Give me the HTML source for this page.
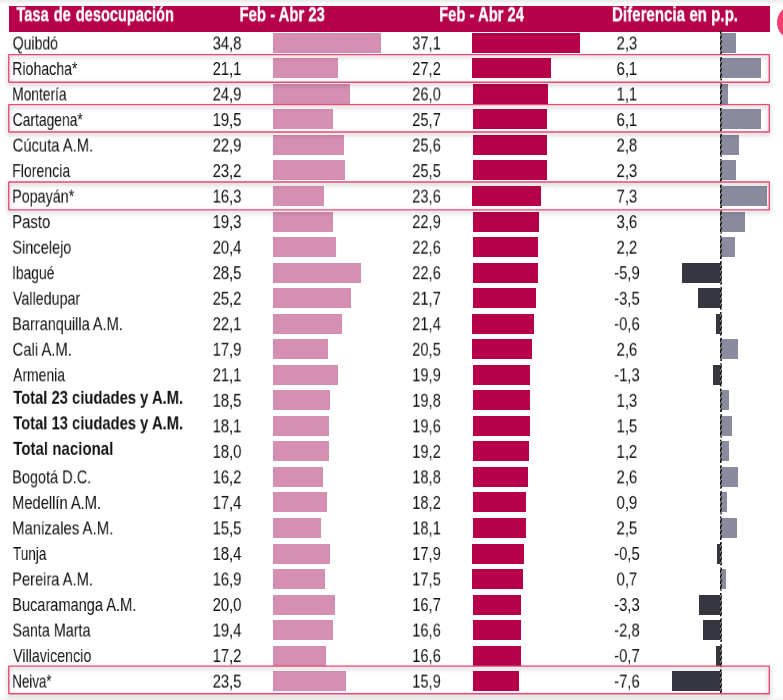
<!DOCTYPE html>
<html><head><meta charset="utf-8"><title>Tasa de desocupación</title>
<style>
html,body{margin:0;padding:0;background:#fff;}
body{width:783px;height:700px;position:relative;overflow:hidden;font-family:"Liberation Sans",sans-serif;color:#111;}
.top{position:absolute;left:0;top:0;width:783px;height:5px;background:linear-gradient(#eaeaea,#fff);}
.hdr{position:absolute;left:9px;top:6px;width:761px;height:25.8px;background:#b6004a;}
.ht{will-change:transform;position:absolute;left:0;top:0;height:22px;line-height:22px;font-weight:bold;font-size:21.0px;color:#fff;-webkit-text-stroke:0.35px #fff;white-space:nowrap;transform-origin:0 50%;}
.t{will-change:transform;position:absolute;left:0;top:0;height:20px;line-height:20px;font-size:18.6px;white-space:nowrap;}
.n{transform-origin:0 50%;}
.n.b{font-weight:bold;font-size:18.6px;}
.v{width:60px;text-align:center;transform-origin:50% 50%;}
.bar{position:absolute;height:19.85px;}
.a{background:#d58fb2;}
.c{background:#b6004a;}
.p{background:#8b8b9f;}
.m{background:#363640;}
.ax{position:absolute;left:720.1px;width:1.7px;background:repeating-linear-gradient(107deg,#0a0a0a 0,#0a0a0a 1.15px,#a0a0a0 1.15px,#a0a0a0 1.6px);}
.box{position:absolute;left:8.05px;box-sizing:border-box;border:1.4px solid #ec4875;border-radius:1.5px;filter:drop-shadow(-0.5px 2.6px 1.5px rgba(0,0,0,0.42));}
.circ{position:absolute;left:777px;top:5.1px;width:35px;height:35px;border-radius:50%;background:#ec3f6e;}
.bot{position:absolute;left:0;top:696px;width:783px;height:4px;background:linear-gradient(rgba(0,0,0,0),rgba(0,0,0,0.05));}
</style></head><body>
<div class="top"></div>
<div class="hdr"></div>
<div class="ht" style="word-spacing:1.5px;transform:translate(16.4px,3.2px) scaleX(0.6947)">Tasa de desocupación</div>
<div class="ht" style="transform:translate(239.55px,3.2px) scaleX(0.7067)">Feb - Abr 23</div>
<div class="ht" style="transform:translate(439.15px,3.2px) scaleX(0.7027)">Feb - Abr 24</div>
<div class="ht" style="transform:translate(612.0px,3.2px) scaleX(0.7197)">Diferencia en p.p.</div>
<div class="circ"></div>

<div class="t n" style="transform:translate(12.69px,33.45px) scaleX(0.7555)">Quibdó</div>
<div class="t v" style="transform:translate(197.00px,33.45px) scaleX(0.796731870967742)">34,8</div>
<div class="t v" style="transform:translate(396.50px,33.45px) scaleX(0.796731870967742)">37,1</div>
<div class="t v" style="transform:translate(596.90px,33.45px) scaleX(0.796731870967742)">2,3</div>
<div class="bar a" style="left:273px;top:33.00px;width:107.88px"></div>
<div class="bar c" style="left:472px;top:33.00px;width:107.90px"></div>
<div class="bar p" style="left:721.40px;top:33.00px;width:14.50px"></div>
<div class="t n" style="transform:translate(12.17px,58.97px) scaleX(0.7612)">Riohacha*</div>
<div class="t v" style="transform:translate(197.00px,58.97px) scaleX(0.796731870967742)">21,1</div>
<div class="t v" style="transform:translate(396.50px,58.97px) scaleX(0.796731870967742)">27,2</div>
<div class="t v" style="transform:translate(596.90px,58.97px) scaleX(0.796731870967742)">6,1</div>
<div class="bar a" style="left:273px;top:58.00px;width:65.41px"></div>
<div class="bar c" style="left:472px;top:58.00px;width:79.00px"></div>
<div class="bar p" style="left:721.40px;top:58.00px;width:39.70px"></div>
<div class="t n" style="transform:translate(12.17px,84.50px) scaleX(0.7417)">Montería</div>
<div class="t v" style="transform:translate(197.00px,84.50px) scaleX(0.796731870967742)">24,9</div>
<div class="t v" style="transform:translate(396.50px,84.50px) scaleX(0.796731870967742)">26,0</div>
<div class="t v" style="transform:translate(596.90px,84.50px) scaleX(0.796731870967742)">1,1</div>
<div class="bar a" style="left:273px;top:84.00px;width:77.19px"></div>
<div class="bar c" style="left:473px;top:84.00px;width:75.00px"></div>
<div class="bar p" style="left:721.40px;top:84.00px;width:6.60px"></div>
<div class="t n" style="transform:translate(12.67px,110.02px) scaleX(0.7455)">Cartagena*</div>
<div class="t v" style="transform:translate(197.00px,110.02px) scaleX(0.796731870967742)">19,5</div>
<div class="t v" style="transform:translate(396.50px,110.02px) scaleX(0.796731870967742)">25,7</div>
<div class="t v" style="transform:translate(596.90px,110.02px) scaleX(0.796731870967742)">6,1</div>
<div class="bar a" style="left:273px;top:109.00px;width:60.45px"></div>
<div class="bar c" style="left:473px;top:109.00px;width:74.00px"></div>
<div class="bar p" style="left:721.40px;top:109.00px;width:39.70px"></div>
<div class="t n" style="transform:translate(12.63px,135.55px) scaleX(0.7958)">Cúcuta A.M.</div>
<div class="t v" style="transform:translate(197.00px,135.55px) scaleX(0.796731870967742)">22,9</div>
<div class="t v" style="transform:translate(396.50px,135.55px) scaleX(0.796731870967742)">25,6</div>
<div class="t v" style="transform:translate(596.90px,135.55px) scaleX(0.796731870967742)">2,8</div>
<div class="bar a" style="left:273px;top:135.00px;width:70.99px"></div>
<div class="bar c" style="left:473px;top:135.00px;width:74.00px"></div>
<div class="bar p" style="left:721.40px;top:135.00px;width:17.50px"></div>
<div class="t n" style="transform:translate(12.17px,161.08px) scaleX(0.7587)">Florencia</div>
<div class="t v" style="transform:translate(197.00px,161.08px) scaleX(0.796731870967742)">23,2</div>
<div class="t v" style="transform:translate(396.50px,161.08px) scaleX(0.796731870967742)">25,5</div>
<div class="t v" style="transform:translate(596.90px,161.08px) scaleX(0.796731870967742)">2,3</div>
<div class="bar a" style="left:273px;top:160.00px;width:71.92px"></div>
<div class="bar c" style="left:473px;top:160.00px;width:74.00px"></div>
<div class="bar p" style="left:721.40px;top:160.00px;width:14.55px"></div>
<div class="t n" style="transform:translate(12.13px,186.60px) scaleX(0.7697)">Popayán*</div>
<div class="t v" style="transform:translate(197.00px,186.60px) scaleX(0.796731870967742)">16,3</div>
<div class="t v" style="transform:translate(396.50px,186.60px) scaleX(0.796731870967742)">23,6</div>
<div class="t v" style="transform:translate(596.90px,186.60px) scaleX(0.796731870967742)">7,3</div>
<div class="bar a" style="left:273px;top:186.00px;width:50.53px"></div>
<div class="bar c" style="left:472px;top:186.00px;width:69.00px"></div>
<div class="bar p" style="left:721.40px;top:186.00px;width:45.50px"></div>
<div class="t n" style="transform:translate(12.09px,212.12px) scaleX(0.8034)">Pasto</div>
<div class="t v" style="transform:translate(197.00px,212.12px) scaleX(0.796731870967742)">19,3</div>
<div class="t v" style="transform:translate(396.50px,212.12px) scaleX(0.796731870967742)">22,9</div>
<div class="t v" style="transform:translate(596.90px,212.12px) scaleX(0.796731870967742)">3,6</div>
<div class="bar a" style="left:273px;top:212.00px;width:59.83px"></div>
<div class="bar c" style="left:473px;top:212.00px;width:66.00px"></div>
<div class="bar p" style="left:721.40px;top:212.00px;width:23.50px"></div>
<div class="t n" style="transform:translate(12.31px,237.65px) scaleX(0.7829)">Sincelejo</div>
<div class="t v" style="transform:translate(197.00px,237.65px) scaleX(0.796731870967742)">20,4</div>
<div class="t v" style="transform:translate(396.50px,237.65px) scaleX(0.796731870967742)">22,6</div>
<div class="t v" style="transform:translate(596.90px,237.65px) scaleX(0.796731870967742)">2,2</div>
<div class="bar a" style="left:273px;top:237.00px;width:63.24px"></div>
<div class="bar c" style="left:473px;top:237.00px;width:65.00px"></div>
<div class="bar p" style="left:721.40px;top:237.00px;width:13.50px"></div>
<div class="t n" style="transform:translate(12.02px,263.17px) scaleX(0.7443)">Ibagué</div>
<div class="t v" style="transform:translate(197.00px,263.17px) scaleX(0.796731870967742)">28,5</div>
<div class="t v" style="transform:translate(396.50px,263.17px) scaleX(0.796731870967742)">22,6</div>
<div class="t v" style="transform:translate(596.90px,263.17px) scaleX(0.796731870967742)">-5,9</div>
<div class="bar a" style="left:273px;top:263.00px;width:88.35px"></div>
<div class="bar c" style="left:473px;top:263.00px;width:65.00px"></div>
<div class="bar m" style="left:682.10px;top:263.00px;width:38.20px"></div>
<div class="t n" style="transform:translate(12.95px,288.70px) scaleX(0.7683)">Valledupar</div>
<div class="t v" style="transform:translate(197.00px,288.70px) scaleX(0.796731870967742)">25,2</div>
<div class="t v" style="transform:translate(396.50px,288.70px) scaleX(0.796731870967742)">21,7</div>
<div class="t v" style="transform:translate(596.90px,288.70px) scaleX(0.796731870967742)">-3,5</div>
<div class="bar a" style="left:273px;top:288.00px;width:78.12px"></div>
<div class="bar c" style="left:473px;top:288.00px;width:63.00px"></div>
<div class="bar m" style="left:698.20px;top:288.00px;width:22.10px"></div>
<div class="t n" style="transform:translate(12.13px,314.22px) scaleX(0.7816)">Barranquilla A.M.</div>
<div class="t v" style="transform:translate(197.00px,314.22px) scaleX(0.796731870967742)">22,1</div>
<div class="t v" style="transform:translate(396.50px,314.22px) scaleX(0.796731870967742)">21,4</div>
<div class="t v" style="transform:translate(596.90px,314.22px) scaleX(0.796731870967742)">-0,6</div>
<div class="bar a" style="left:273px;top:314.00px;width:68.51px"></div>
<div class="bar c" style="left:472px;top:314.00px;width:61.90px"></div>
<div class="bar m" style="left:716.15px;top:314.00px;width:4.15px"></div>
<div class="t n" style="transform:translate(12.58px,339.75px) scaleX(0.7969)">Cali A.M.</div>
<div class="t v" style="transform:translate(197.00px,339.75px) scaleX(0.796731870967742)">17,9</div>
<div class="t v" style="transform:translate(396.50px,339.75px) scaleX(0.796731870967742)">20,5</div>
<div class="t v" style="transform:translate(596.90px,339.75px) scaleX(0.796731870967742)">2,6</div>
<div class="bar a" style="left:273px;top:339.00px;width:55.49px"></div>
<div class="bar c" style="left:472px;top:339.00px;width:59.90px"></div>
<div class="bar p" style="left:721.40px;top:339.00px;width:16.60px"></div>
<div class="t n" style="transform:translate(13.15px,365.27px) scaleX(0.7484)">Armenia</div>
<div class="t v" style="transform:translate(197.00px,365.27px) scaleX(0.796731870967742)">21,1</div>
<div class="t v" style="transform:translate(396.50px,365.27px) scaleX(0.796731870967742)">19,9</div>
<div class="t v" style="transform:translate(596.90px,365.27px) scaleX(0.796731870967742)">-1,3</div>
<div class="bar a" style="left:273px;top:365.00px;width:65.41px"></div>
<div class="bar c" style="left:473px;top:365.00px;width:56.90px"></div>
<div class="bar m" style="left:713.30px;top:365.00px;width:7.00px"></div>
<div class="t n b" style="transform:translate(13.25px,387.80px) scaleX(0.7940)">Total 23 ciudades y A.M.</div>
<div class="t v" style="transform:translate(197.00px,390.80px) scaleX(0.796731870967742)">18,5</div>
<div class="t v" style="transform:translate(396.50px,390.80px) scaleX(0.796731870967742)">19,8</div>
<div class="t v" style="transform:translate(596.90px,390.80px) scaleX(0.796731870967742)">1,3</div>
<div class="bar a" style="left:273px;top:390.00px;width:57.35px"></div>
<div class="bar c" style="left:473px;top:390.00px;width:56.90px"></div>
<div class="bar p" style="left:721.40px;top:390.00px;width:7.60px"></div>
<div class="t n b" style="transform:translate(13.25px,413.32px) scaleX(0.7940)">Total 13 ciudades y A.M.</div>
<div class="t v" style="transform:translate(197.00px,416.32px) scaleX(0.796731870967742)">18,1</div>
<div class="t v" style="transform:translate(396.50px,416.32px) scaleX(0.796731870967742)">19,6</div>
<div class="t v" style="transform:translate(596.90px,416.32px) scaleX(0.796731870967742)">1,5</div>
<div class="bar a" style="left:273px;top:416.00px;width:56.11px"></div>
<div class="bar c" style="left:473px;top:416.00px;width:56.90px"></div>
<div class="bar p" style="left:721.40px;top:416.00px;width:10.55px"></div>
<div class="t n b" style="transform:translate(13.25px,438.85px) scaleX(0.8093)">Total nacional</div>
<div class="t v" style="transform:translate(197.00px,441.85px) scaleX(0.796731870967742)">18,0</div>
<div class="t v" style="transform:translate(396.50px,441.85px) scaleX(0.796731870967742)">19,2</div>
<div class="t v" style="transform:translate(596.90px,441.85px) scaleX(0.796731870967742)">1,2</div>
<div class="bar a" style="left:273px;top:441.00px;width:55.80px"></div>
<div class="bar c" style="left:473px;top:441.00px;width:55.90px"></div>
<div class="bar p" style="left:721.40px;top:441.00px;width:7.60px"></div>
<div class="t n" style="transform:translate(12.13px,467.37px) scaleX(0.7812)">Bogotá D.C.</div>
<div class="t v" style="transform:translate(197.00px,467.37px) scaleX(0.796731870967742)">16,2</div>
<div class="t v" style="transform:translate(396.50px,467.37px) scaleX(0.796731870967742)">18,8</div>
<div class="t v" style="transform:translate(596.90px,467.37px) scaleX(0.796731870967742)">2,6</div>
<div class="bar a" style="left:273px;top:467.00px;width:50.22px"></div>
<div class="bar c" style="left:473px;top:467.00px;width:54.90px"></div>
<div class="bar p" style="left:721.40px;top:467.00px;width:16.60px"></div>
<div class="t n" style="transform:translate(12.13px,492.90px) scaleX(0.7888)">Medellín A.M.</div>
<div class="t v" style="transform:translate(197.00px,492.90px) scaleX(0.796731870967742)">17,4</div>
<div class="t v" style="transform:translate(396.50px,492.90px) scaleX(0.796731870967742)">18,2</div>
<div class="t v" style="transform:translate(596.90px,492.90px) scaleX(0.796731870967742)">0,9</div>
<div class="bar a" style="left:273px;top:492.00px;width:53.94px"></div>
<div class="bar c" style="left:473px;top:492.00px;width:52.90px"></div>
<div class="bar p" style="left:721.40px;top:492.00px;width:5.60px"></div>
<div class="t n" style="transform:translate(12.09px,518.42px) scaleX(0.8019)">Manizales A.M.</div>
<div class="t v" style="transform:translate(197.00px,518.42px) scaleX(0.796731870967742)">15,5</div>
<div class="t v" style="transform:translate(396.50px,518.42px) scaleX(0.796731870967742)">18,1</div>
<div class="t v" style="transform:translate(596.90px,518.42px) scaleX(0.796731870967742)">2,5</div>
<div class="bar a" style="left:273px;top:518.00px;width:48.05px"></div>
<div class="bar c" style="left:473px;top:518.00px;width:52.90px"></div>
<div class="bar p" style="left:721.40px;top:518.00px;width:15.50px"></div>
<div class="t n" style="transform:translate(12.93px,543.95px) scaleX(0.7300)">Tunja</div>
<div class="t v" style="transform:translate(197.00px,543.95px) scaleX(0.796731870967742)">18,4</div>
<div class="t v" style="transform:translate(396.50px,543.95px) scaleX(0.796731870967742)">17,9</div>
<div class="t v" style="transform:translate(596.90px,543.95px) scaleX(0.796731870967742)">-0,5</div>
<div class="bar a" style="left:273px;top:544.00px;width:57.04px"></div>
<div class="bar c" style="left:472px;top:544.00px;width:51.90px"></div>
<div class="bar m" style="left:717.10px;top:544.00px;width:3.20px"></div>
<div class="t n" style="transform:translate(12.09px,569.47px) scaleX(0.7903)">Pereira A.M.</div>
<div class="t v" style="transform:translate(197.00px,569.47px) scaleX(0.796731870967742)">16,9</div>
<div class="t v" style="transform:translate(396.50px,569.47px) scaleX(0.796731870967742)">17,5</div>
<div class="t v" style="transform:translate(596.90px,569.47px) scaleX(0.796731870967742)">0,7</div>
<div class="bar a" style="left:273px;top:569.00px;width:52.39px"></div>
<div class="bar c" style="left:472px;top:569.00px;width:50.90px"></div>
<div class="bar p" style="left:721.40px;top:569.00px;width:4.50px"></div>
<div class="t n" style="transform:translate(12.13px,595.00px) scaleX(0.7846)">Bucaramanga A.M.</div>
<div class="t v" style="transform:translate(197.00px,595.00px) scaleX(0.796731870967742)">20,0</div>
<div class="t v" style="transform:translate(396.50px,595.00px) scaleX(0.796731870967742)">16,7</div>
<div class="t v" style="transform:translate(596.90px,595.00px) scaleX(0.796731870967742)">-3,3</div>
<div class="bar a" style="left:273px;top:595.00px;width:62.00px"></div>
<div class="bar c" style="left:473px;top:595.00px;width:47.95px"></div>
<div class="bar m" style="left:699.20px;top:595.00px;width:21.10px"></div>
<div class="t n" style="transform:translate(12.40px,620.52px) scaleX(0.7706)">Santa Marta</div>
<div class="t v" style="transform:translate(197.00px,620.52px) scaleX(0.796731870967742)">19,4</div>
<div class="t v" style="transform:translate(396.50px,620.52px) scaleX(0.796731870967742)">16,6</div>
<div class="t v" style="transform:translate(596.90px,620.52px) scaleX(0.796731870967742)">-2,8</div>
<div class="bar a" style="left:273px;top:620.00px;width:60.14px"></div>
<div class="bar c" style="left:473px;top:620.00px;width:47.95px"></div>
<div class="bar m" style="left:703.20px;top:620.00px;width:17.10px"></div>
<div class="t n" style="transform:translate(13.10px,646.05px) scaleX(0.7668)">Villavicencio</div>
<div class="t v" style="transform:translate(197.00px,646.05px) scaleX(0.796731870967742)">17,2</div>
<div class="t v" style="transform:translate(396.50px,646.05px) scaleX(0.796731870967742)">16,6</div>
<div class="t v" style="transform:translate(596.90px,646.05px) scaleX(0.796731870967742)">-0,7</div>
<div class="bar a" style="left:273px;top:646.00px;width:53.32px"></div>
<div class="bar c" style="left:473px;top:646.00px;width:47.95px"></div>
<div class="bar m" style="left:716.15px;top:646.00px;width:4.15px"></div>
<div class="t n" style="transform:translate(12.24px,671.57px) scaleX(0.7176)">Neiva*</div>
<div class="t v" style="transform:translate(197.00px,671.57px) scaleX(0.796731870967742)">23,5</div>
<div class="t v" style="transform:translate(396.50px,671.57px) scaleX(0.796731870967742)">15,9</div>
<div class="t v" style="transform:translate(596.90px,671.57px) scaleX(0.796731870967742)">-7,6</div>
<div class="bar a" style="left:273px;top:671.00px;width:72.85px"></div>
<div class="bar c" style="left:473px;top:671.00px;width:45.96px"></div>
<div class="bar m" style="left:672.10px;top:671.00px;width:48.20px"></div>
<svg class="axs" width="3" height="700" viewBox="0 0 3 700" style="position:absolute;left:719px;top:0"><defs><clipPath id="cp"><rect x="1.0" y="30.00" width="1.85" height="24.77"/><rect x="1.0" y="57.07" width="1.85" height="23.22"/><rect x="1.0" y="82.59" width="1.85" height="23.22"/><rect x="1.0" y="108.11" width="1.85" height="23.22"/><rect x="1.0" y="133.63" width="1.85" height="23.22"/><rect x="1.0" y="159.15" width="1.85" height="23.22"/><rect x="1.0" y="184.67" width="1.85" height="23.22"/><rect x="1.0" y="210.19" width="1.85" height="23.22"/><rect x="1.0" y="235.71" width="1.85" height="23.22"/><rect x="1.0" y="261.23" width="1.85" height="23.22"/><rect x="1.0" y="286.75" width="1.85" height="23.22"/><rect x="1.0" y="312.27" width="1.85" height="23.22"/><rect x="1.0" y="337.79" width="1.85" height="23.22"/><rect x="1.0" y="363.31" width="1.85" height="23.22"/><rect x="1.0" y="388.83" width="1.85" height="23.22"/><rect x="1.0" y="414.35" width="1.85" height="23.22"/><rect x="1.0" y="439.87" width="1.85" height="23.22"/><rect x="1.0" y="465.39" width="1.85" height="23.22"/><rect x="1.0" y="490.91" width="1.85" height="23.22"/><rect x="1.0" y="516.43" width="1.85" height="23.22"/><rect x="1.0" y="541.95" width="1.85" height="23.22"/><rect x="1.0" y="567.47" width="1.85" height="23.22"/><rect x="1.0" y="592.99" width="1.85" height="23.22"/><rect x="1.0" y="618.51" width="1.85" height="23.22"/><rect x="1.0" y="644.03" width="1.85" height="23.22"/><rect x="1.0" y="669.55" width="1.85" height="23.55"/></clipPath></defs><g clip-path="url(#cp)"><rect x="0" y="0" width="3" height="700" fill="#b0b0b0"/><path d="M2.75 29.00L1.2 33.90M2.75 34.50L1.2 39.40M2.75 40.00L1.2 44.90M2.75 45.50L1.2 50.40M2.75 51.00L1.2 55.90M2.75 56.50L1.2 61.40M2.75 62.00L1.2 66.90M2.75 67.50L1.2 72.40M2.75 73.00L1.2 77.90M2.75 78.50L1.2 83.40M2.75 84.00L1.2 88.90M2.75 89.50L1.2 94.40M2.75 95.00L1.2 99.90M2.75 100.50L1.2 105.40M2.75 106.00L1.2 110.90M2.75 111.50L1.2 116.40M2.75 117.00L1.2 121.90M2.75 122.50L1.2 127.40M2.75 128.00L1.2 132.90M2.75 133.50L1.2 138.40M2.75 139.00L1.2 143.90M2.75 144.50L1.2 149.40M2.75 150.00L1.2 154.90M2.75 155.50L1.2 160.40M2.75 161.00L1.2 165.90M2.75 166.50L1.2 171.40M2.75 172.00L1.2 176.90M2.75 177.50L1.2 182.40M2.75 183.00L1.2 187.90M2.75 188.50L1.2 193.40M2.75 194.00L1.2 198.90M2.75 199.50L1.2 204.40M2.75 205.00L1.2 209.90M2.75 210.50L1.2 215.40M2.75 216.00L1.2 220.90M2.75 221.50L1.2 226.40M2.75 227.00L1.2 231.90M2.75 232.50L1.2 237.40M2.75 238.00L1.2 242.90M2.75 243.50L1.2 248.40M2.75 249.00L1.2 253.90M2.75 254.50L1.2 259.40M2.75 260.00L1.2 264.90M2.75 265.50L1.2 270.40M2.75 271.00L1.2 275.90M2.75 276.50L1.2 281.40M2.75 282.00L1.2 286.90M2.75 287.50L1.2 292.40M2.75 293.00L1.2 297.90M2.75 298.50L1.2 303.40M2.75 304.00L1.2 308.90M2.75 309.50L1.2 314.40M2.75 315.00L1.2 319.90M2.75 320.50L1.2 325.40M2.75 326.00L1.2 330.90M2.75 331.50L1.2 336.40M2.75 337.00L1.2 341.90M2.75 342.50L1.2 347.40M2.75 348.00L1.2 352.90M2.75 353.50L1.2 358.40M2.75 359.00L1.2 363.90M2.75 364.50L1.2 369.40M2.75 370.00L1.2 374.90M2.75 375.50L1.2 380.40M2.75 381.00L1.2 385.90M2.75 386.50L1.2 391.40M2.75 392.00L1.2 396.90M2.75 397.50L1.2 402.40M2.75 403.00L1.2 407.90M2.75 408.50L1.2 413.40M2.75 414.00L1.2 418.90M2.75 419.50L1.2 424.40M2.75 425.00L1.2 429.90M2.75 430.50L1.2 435.40M2.75 436.00L1.2 440.90M2.75 441.50L1.2 446.40M2.75 447.00L1.2 451.90M2.75 452.50L1.2 457.40M2.75 458.00L1.2 462.90M2.75 463.50L1.2 468.40M2.75 469.00L1.2 473.90M2.75 474.50L1.2 479.40M2.75 480.00L1.2 484.90M2.75 485.50L1.2 490.40M2.75 491.00L1.2 495.90M2.75 496.50L1.2 501.40M2.75 502.00L1.2 506.90M2.75 507.50L1.2 512.40M2.75 513.00L1.2 517.90M2.75 518.50L1.2 523.40M2.75 524.00L1.2 528.90M2.75 529.50L1.2 534.40M2.75 535.00L1.2 539.90M2.75 540.50L1.2 545.40M2.75 546.00L1.2 550.90M2.75 551.50L1.2 556.40M2.75 557.00L1.2 561.90M2.75 562.50L1.2 567.40M2.75 568.00L1.2 572.90M2.75 573.50L1.2 578.40M2.75 579.00L1.2 583.90M2.75 584.50L1.2 589.40M2.75 590.00L1.2 594.90M2.75 595.50L1.2 600.40M2.75 601.00L1.2 605.90M2.75 606.50L1.2 611.40M2.75 612.00L1.2 616.90M2.75 617.50L1.2 622.40M2.75 623.00L1.2 627.90M2.75 628.50L1.2 633.40M2.75 634.00L1.2 638.90M2.75 639.50L1.2 644.40M2.75 645.00L1.2 649.90M2.75 650.50L1.2 655.40M2.75 656.00L1.2 660.90M2.75 661.50L1.2 666.40M2.75 667.00L1.2 671.90M2.75 672.50L1.2 677.40M2.75 678.00L1.2 682.90M2.75 683.50L1.2 688.40M2.75 689.00L1.2 693.90M2.75 694.50L1.2 699.40M2.75 700.00L1.2 704.90" stroke="#050505" stroke-width="1.6" fill="none"/></g></svg>
<svg width="783" height="700" viewBox="0 0 783 700" style="position:absolute;left:0;top:0;filter:drop-shadow(0px 2.6px 2.2px rgba(0,0,0,0.36))"><rect x="8.73" y="54.67" width="760.60" height="27.55" rx="0.4" ry="0.4" fill="none" stroke="#ec4875" stroke-width="1.35"/><rect x="8.73" y="104.67" width="760.60" height="27.35" rx="0.4" ry="0.4" fill="none" stroke="#ec4875" stroke-width="1.35"/><rect x="8.73" y="181.98" width="760.60" height="27.95" rx="0.4" ry="0.4" fill="none" stroke="#ec4875" stroke-width="1.35"/><rect x="8.73" y="666.07" width="760.60" height="27.65" rx="0.4" ry="0.4" fill="none" stroke="#ec4875" stroke-width="1.35"/></svg>
<div class="bot"></div>
</body></html>
